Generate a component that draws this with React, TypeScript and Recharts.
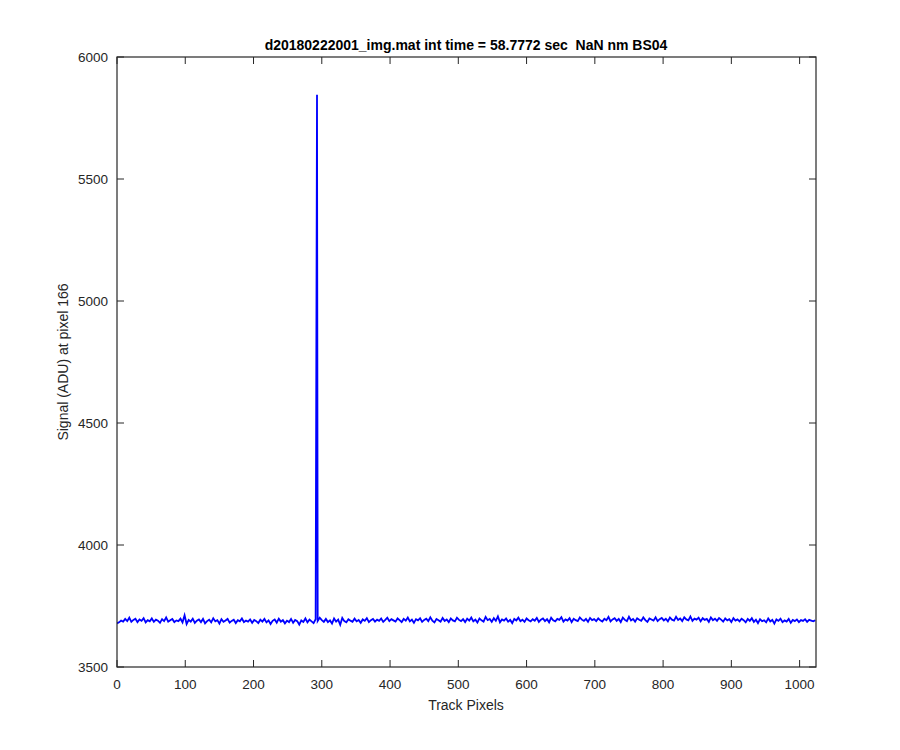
import React from "react";
import { LineChart, Line, XAxis, YAxis } from "recharts";

// signal sampled every 3 track pixels (0, 3, 6 ... 1023)
const signal = [
  3679, 3683, 3690, 3686, 3697, 3688, 3702, 3685, 3693, 3698, 3684, 3695, 3689, 3700, 3683, 3692, 3687, 3699, 3685, 3694, 3690, 3681, 3696, 3688, 3703, 3686, 3692, 3697, 3684, 3691, 3688, 3698, 3683, 3712,
  3676, 3693, 3686, 3698, 3681, 3690, 3695, 3684, 3697, 3679, 3688, 3694, 3683, 3700, 3687, 3692, 3678, 3696, 3685, 3691, 3697, 3682, 3689, 3694, 3680, 3692, 3687, 3699, 3684, 3690, 3686, 3695, 3681, 3693,
  3688, 3680, 3694, 3686, 3697, 3683, 3691, 3676, 3689, 3695, 3682, 3698, 3686, 3692, 3679, 3690, 3684, 3697, 3681, 3693, 3688, 3674, 3691, 3685, 3699, 3683, 3694, 3687, 3680, 3696, 3689, 3702, 3692, 3685,
  3697, 3684, 3691, 3678, 3699, 3686, 3694, 3673, 3701, 3688, 3683, 3696, 3690, 3685, 3698, 3687, 3693, 3681, 3695, 3689, 3700, 3684, 3692, 3697, 3686, 3694, 3689, 3699, 3685, 3693, 3702, 3688, 3696, 3691,
  3686, 3699, 3692, 3684, 3697, 3690, 3703, 3687, 3694, 3681, 3696, 3691, 3700, 3685, 3693, 3698, 3688, 3704, 3690, 3683, 3697, 3692, 3686, 3701, 3689, 3695, 3684, 3699, 3691, 3687, 3702, 3693, 3688, 3696,
  3684, 3698, 3690, 3703, 3687, 3694, 3682, 3699, 3691, 3686, 3705, 3692, 3697, 3685, 3700, 3689, 3707, 3683, 3695, 3690, 3699, 3686, 3693, 3680, 3697, 3691, 3702, 3688, 3694, 3685, 3699, 3692, 3687, 3696,
  3690, 3701, 3685, 3694, 3699, 3688, 3696, 3683, 3702, 3691, 3687, 3697, 3693, 3704, 3686, 3695, 3690, 3700, 3684, 3698, 3692, 3688, 3703, 3694, 3689, 3697, 3685, 3701, 3692, 3696, 3688, 3699, 3691, 3686,
  3698, 3692, 3705, 3687, 3695, 3700, 3689, 3697, 3684, 3702, 3693, 3688, 3706, 3691, 3697, 3686, 3700, 3694, 3689, 3703, 3692, 3685, 3699, 3695, 3690, 3704, 3688, 3696, 3701, 3691, 3698, 3687, 3703, 3694,
  3690, 3706, 3693, 3699, 3688, 3704, 3695, 3691, 3707, 3689, 3698, 3694, 3702, 3687, 3700, 3693, 3697, 3685, 3703, 3692, 3698, 3689, 3701, 3694, 3686, 3699, 3691, 3696, 3684, 3700, 3690, 3695, 3687, 3698,
  3692, 3683, 3697, 3689, 3700, 3685, 3694, 3680, 3696, 3688, 3691, 3683, 3699, 3687, 3693, 3678, 3695, 3689, 3698, 3684, 3691, 3686, 3697, 3681, 3693, 3688, 3695, 3684, 3692, 3689, 3696, 3685, 3693, 3690,
  3687, 3692,
];

// the single hot pixel
const spikePixels = [293];
const spikeSignal = [5845];

const xTicks = [0, 100, 200, 300, 400, 500, 600, 700, 800, 900, 1000];
const yTicks = [3500, 4000, 4500, 5000, 5500, 6000];

const data = signal
  .map((v, i) => ({ px: Math.min(i * 3, 1023), v }))
  .concat(spikePixels.map((px, i) => ({ px, v: spikeSignal[i] })))
  .sort((a, b) => a.px - b.px);

// plot box (matlab style axes)
const top = 57;
const bottom = 667;
const left = 117;
const right = 816;
const tickLen = 7;

const axisColor = "#262626";
const font = "'Liberation Sans', Arial, sans-serif";

const BottomTick = (props: any) => {
  const { x, payload } = props;
  return (
    <g>
      <line x1={x} x2={x} y1={bottom} y2={bottom - tickLen} stroke={axisColor} />
      <line x1={x} x2={x} y1={top} y2={top + tickLen} stroke={axisColor} />
      <text x={x} y={684} textAnchor="middle" dominantBaseline="central" fill={axisColor} fontSize={13.5} fontFamily={font}>
        {payload.value}
      </text>
    </g>
  );
};

const LeftTick = (props: any) => {
  const { y, payload } = props;
  return (
    <g>
      <line x1={left} x2={left + tickLen} y1={y} y2={y} stroke={axisColor} />
      <line x1={right} x2={right - tickLen} y1={y} y2={y} stroke={axisColor} />
      <text x={108} y={y} textAnchor="end" dominantBaseline="central" fill={axisColor} fontSize={13.5} fontFamily={font}>
        {payload.value}
      </text>
    </g>
  );
};

export default function App() {
  return (
    <div style={{ position: "absolute", left: 0, top: 0, width: 900, height: 750, background: "#fff", fontFamily: font }}>
      <LineChart width={900} height={750} data={data} margin={{ top: 57, right: 84, left: 57, bottom: 53 }}>
        <XAxis
          xAxisId="bottom"
          dataKey="px"
          type="number"
          domain={[0, 1024]}
          ticks={xTicks}
          height={30}
          tick={<BottomTick />}
          tickLine={false}
          axisLine={false}
          allowDataOverflow
        />
        <YAxis
          yAxisId="left"
          type="number"
          domain={[3500, 6000]}
          ticks={yTicks}
          width={60}
          tick={<LeftTick />}
          tickLine={false}
          axisLine={false}
          allowDataOverflow
        />
        <Line
          xAxisId="bottom"
          yAxisId="left"
          dataKey="v"
          stroke="#0000ff"
          strokeWidth={1.8}
          dot={false}
          isAnimationActive={false}
        />
      </LineChart>
      <svg width={900} height={750} style={{ position: "absolute", left: 0, top: 0, pointerEvents: "none" }}>
        <rect x={left} y={top} width={right - left} height={bottom - top} fill="none" stroke={axisColor} strokeWidth={1.2} />
      </svg>
      <div style={{ position: "absolute", left: 466, top: 45, transform: "translate(-50%, -50%)", fontSize: 14, fontWeight: "bold", color: "#000", whiteSpace: "pre" }}>
        {"d20180222001_img.mat int time = 58.7772 sec  NaN nm BS04"}
      </div>
      <div style={{ position: "absolute", left: 466, top: 705, transform: "translate(-50%, -50%)", fontSize: 14, color: axisColor }}>
        Track Pixels
      </div>
      <div style={{ position: "absolute", left: 63, top: 362, transform: "translate(-50%, -50%) rotate(-90deg)", fontSize: 14, color: axisColor, whiteSpace: "nowrap" }}>
        Signal (ADU) at pixel 166
      </div>
    </div>
  );
}
